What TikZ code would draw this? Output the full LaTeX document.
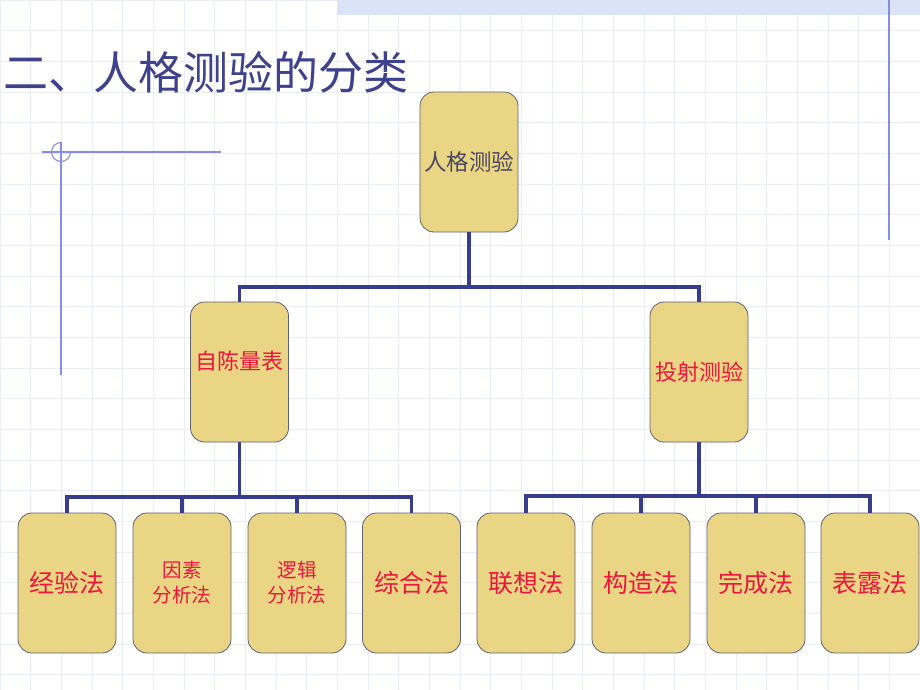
\documentclass[tikz,border=0pt]{standalone}
\usepackage{fontspec}
\newfontfamily\cjk{Noto Sans CJK SC}
\definecolor{boxfill}{RGB}{233,213,131}
\definecolor{boxedge}{RGB}{100,96,112}
\definecolor{linknavy}{RGB}{56,60,140}
\definecolor{titleblue}{RGB}{62,66,140}
\definecolor{redtext}{RGB}{236,22,62}
\definecolor{roottext}{RGB}{74,70,96}
\definecolor{gridgray}{RGB}{234,236,246}
\definecolor{bandblue}{RGB}{218,227,247}
\definecolor{decoblue}{RGB}{132,142,234}
\tikzset{
  box/.style={draw=boxedge, line width=0.8pt, fill=boxfill, rounded corners=14pt,
    minimum width=98pt, minimum height=140pt, inner sep=0pt, align=center, font=\cjk},
  link/.style={draw=linknavy, line width=3.2pt},
  deco/.style={draw=decoblue, line width=1.1pt}
}
\begin{document}
\begin{tikzpicture}[x=1pt, y=-1pt]
  \useasboundingbox (0,0) rectangle (920,690);
  \fill[white] (0,0) rectangle (920,690);
  \draw[gridgray, line width=0.6pt, step=30.667pt] (0,0) grid (920,690);
  \fill[bandblue] (337,0) rectangle (920,15);
  % decorations
  \draw[deco] (889,0) -- (889,240);
  \draw[deco] (42,152) -- (221,152);
  \draw[deco] (61,142) -- (61,375);
  \draw[deco] (61,142.5) arc[start angle=90, end angle=360, radius=9.5pt];
  \node[anchor=west, inner sep=0pt, text=titleblue, font=\cjk\fontsize{45}{50}\selectfont]
    (title) at (3,72) {二、人格测验的分类};
  % boxes
  \node[box, text=roottext, font=\cjk\fontsize{22.5}{26}\selectfont] (root) at (469,162) {人格测验};
  \node[box, text=redtext, text depth=24pt, font=\cjk\fontsize{22}{26}\selectfont] (self) at (239.5,372) {自陈量表};
  \node[box, text=redtext, font=\cjk\fontsize{22}{26}\selectfont] (proj) at (699,372) {投射测验};
  \node[box, text=redtext, font=\cjk\fontsize{25}{30}\selectfont] (jingyan) at (67,583) {经验法};
  \node[box, text=redtext, font=\cjk\fontsize{19.5}{25}\selectfont] (yinsu) at (182,583) {因素\\分析法};
  \node[box, text=redtext, font=\cjk\fontsize{19.5}{25}\selectfont] (luoji) at (297,583) {逻辑\\分析法};
  \node[box, text=redtext, font=\cjk\fontsize{25}{30}\selectfont] (zonghe) at (411.5,583) {综合法};
  \node[box, text=redtext, font=\cjk\fontsize{25}{30}\selectfont] (lianxiang) at (526,583) {联想法};
  \node[box, text=redtext, font=\cjk\fontsize{25}{30}\selectfont] (gouzao) at (641,583) {构造法};
  \node[box, text=redtext, font=\cjk\fontsize{25}{30}\selectfont] (wancheng) at (756,583) {完成法};
  \node[box, text=redtext, font=\cjk\fontsize{25}{30}\selectfont] (biaolu) at (870,583) {表露法};
  % connectors
  \coordinate (busroot) at (469,287);
  \coordinate (busself) at (239.5,497);
  \coordinate (busproj) at (699,496);
  \draw[link] (root.south) -- (busroot);
  \draw[link] (self.north) |- (busroot) -| (proj.north);
  \draw[link] (self.south) -- (busself);
  \draw[link] (jingyan.north) |- (busself) -| (zonghe.north);
  \draw[link] (yinsu.north) -- (yinsu.north |- busself);
  \draw[link] (luoji.north) -- (luoji.north |- busself);
  \draw[link] (proj.south) -- (busproj);
  \draw[link] (lianxiang.north) |- (busproj) -| (biaolu.north);
  \draw[link] (gouzao.north) -- (gouzao.north |- busproj);
  \draw[link] (wancheng.north) -- (wancheng.north |- busproj);
\end{tikzpicture}
\end{document}
